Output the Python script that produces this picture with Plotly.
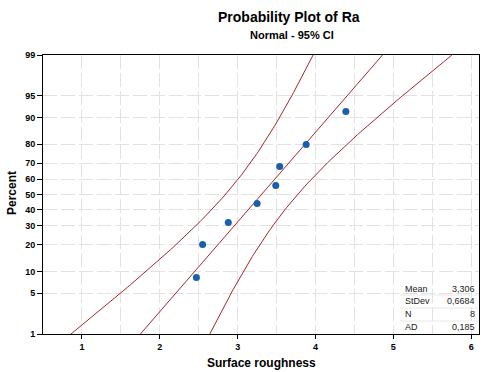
import numpy as np
import plotly.graph_objects as go
from statistics import NormalDist

# ---- data ----
roughness = [2.47, 2.55, 2.88, 3.25, 3.49, 3.54, 3.88, 4.39]
percent = [8.3, 20.2, 32.1, 44.0, 56.0, 67.9, 79.8, 91.7]
MEAN = 3.306
STDEV = 0.6684
N = 8
AD = 0.185
y_ticks = [1, 5, 10, 20, 30, 40, 50, 60, 70, 80, 90, 95, 99]
x_ticks = [1, 2, 3, 4, 5, 6]
stat_labels = ["Mean", "StDev", "N", "AD"]
stat_values = ["3,306", "0,6684", "8", "0,185"]

nd = NormalDist()
def z(p):
    return nd.inv_cdf(p / 100.0)

# fitted line and 95% CI from the summary statistics
zgrid = np.linspace(z(1), z(99), 120)
fit = MEAN + STDEV * zgrid
se = np.sqrt(STDEV**2 / N + zgrid**2 * STDEV**2 / (2 * N))
lo = fit - 1.96 * se
hi = fit + 1.96 * se

red = "#a5262d"
blue = "#1a5fae"
fig = go.Figure()
for xs in (lo, fit, hi):
    fig.add_trace(go.Scatter(x=xs, y=zgrid, mode="lines",
                             line=dict(color=red, width=1), hoverinfo="skip"))
fig.add_trace(go.Scatter(x=roughness, y=[z(p) for p in percent], mode="markers",
                         marker=dict(color=blue, size=7)))

L, R, T, B = 43, 479, 55, 334
W, H = 484, 372
pw, ph = R - L, B - T
def px(x): return (x - L) / pw
def py(y): return (B - y) / ph

gcol = "#e2e2e2"
gdash = "14px,4px"
grid = dict(showgrid=True, gridcolor=gcol, gridwidth=1, griddash=gdash)
fig.update_layout(
    width=W, height=H, margin=dict(l=L, r=W - R, t=T, b=H - B),
    paper_bgcolor="white", plot_bgcolor="white", showlegend=False,
    font=dict(family="Liberation Sans", color="black"),
    xaxis=dict(range=[0.5, 6.1], tickvals=x_ticks, ticktext=[str(v) for v in x_ticks],
               minor=dict(tickvals=[v + 0.5 for v in range(0, 6)], showgrid=True,
                          gridcolor=gcol, griddash=gdash, ticks=""),
               ticks="outside", ticklen=4, tickcolor="black",
               tickfont=dict(size=9, family="Liberation Sans", weight="bold"),
               showline=True, linecolor="black", linewidth=1, mirror=True,
               zeroline=False, **grid),
    yaxis=dict(range=[z(1), z(99)], tickvals=[z(v) for v in y_ticks],
               ticktext=[str(v) for v in y_ticks],
               ticks="outside", ticklen=5, tickcolor="black",
               tickfont=dict(size=9, family="Liberation Sans", weight="bold"),
               showline=True, linecolor="black", linewidth=1, mirror=True,
               zeroline=False, **grid),
)

ann = []
ann.append(dict(text="<b>Probability Plot of Ra</b>", x=px(289), y=py(17), font=dict(size=14)))
ann.append(dict(text="<b>Normal - 95% CI</b>", x=px(292), y=py(35), font=dict(size=11)))
ann.append(dict(text="<b>Surface roughness</b>", x=px(261), y=py(363), font=dict(size=12)))
ann.append(dict(text="<b>Percent</b>", x=px(12), y=py(193), textangle=-90, font=dict(size=12)))
rows_y = [289, 301, 314, 327]
for lab, val, yy in zip(stat_labels, stat_values, rows_y):
    ann.append(dict(text=lab, x=px(403), y=py(yy), xanchor="left", font=dict(size=9, color="#222")))
    ann.append(dict(text=val, x=px(477), y=py(yy), xanchor="right", font=dict(size=9, color="#222")))
for a in ann:
    a.setdefault("xanchor", "center")
    fig.add_annotation(xref="paper", yref="paper", showarrow=False, yanchor="middle", **a)

for yy in [295, 308, 321]:
    fig.add_shape(type="line", xref="paper", yref="paper", x0=px(400), x1=px(478),
                  y0=py(yy), y1=py(yy), line=dict(color="#e8e8e8", width=1))

fig.write_html("out.html")
